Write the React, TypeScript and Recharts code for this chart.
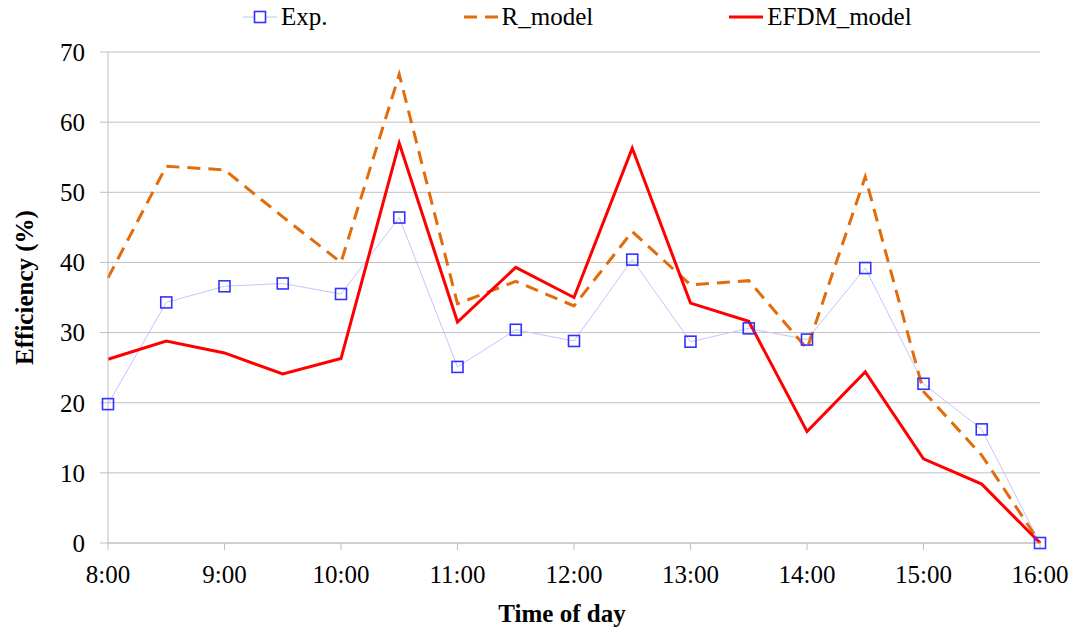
import { LineChart, Line, XAxis, YAxis, CartesianGrid, Legend, Label } from "recharts";

// Half-hour readings across the day (hours as decimals)
const hours = [8, 8.5, 9, 9.5, 10, 10.5, 11, 11.5, 12, 12.5, 13, 13.5, 14, 14.5, 15, 15.5, 16];
const expValues = [19.8, 34.3, 36.6, 37.0, 35.5, 46.4, 25.1, 30.4, 28.8, 40.4, 28.7, 30.6, 29.0, 39.2, 22.7, 16.2, 0];
const rModelValues = [37.8, 53.7, 53.2, 46.5, 40.0, 66.8, 34.1, 37.3, 33.8, 44.4, 36.8, 37.4, 27.7, 52.2, 21.6, 12.5, 0];
const efdmValues = [26.2, 28.8, 27.1, 24.1, 26.3, 57.0, 31.5, 39.3, 35.0, 56.3, 34.2, 31.6, 15.9, 24.4, 12.0, 8.4, 0];

const xTicks = [8, 9, 10, 11, 12, 13, 14, 15, 16];
const yTicks = [0, 10, 20, 30, 40, 50, 60, 70];

const rows = hours.map((t, i) => ({
  t,
  exp: expValues[i],
  rModel: rModelValues[i],
  efdm: efdmValues[i],
}));

const FONT = "'Liberation Serif', 'Times New Roman', serif";
const GRID = "#c0c0c0";
const EXP_LINE = "#c4c4ff";
const EXP_MARK = "#3333ff";
const R_COLOR = "#e36c0a";
const EFDM_COLOR = "#ff0000";

function SquareDot(props: any) {
  const { cx, cy, index } = props;
  if (cx == null || cy == null) return null;
  return (
    <rect
      key={`sq-${index}`}
      x={cx - 5.5}
      y={cy - 5.5}
      width={11}
      height={11}
      fill="none"
      stroke={EXP_MARK}
      strokeWidth={1.6}
    />
  );
}

function LegendIcon({ kind }: { kind: string }) {
  return (
    <svg width={34} height={18} style={{ display: "block" }}>
      {kind === "exp" && (
        <>
          <line x1={0} y1={9} x2={34} y2={9} stroke={EXP_LINE} strokeWidth={1} />
          <rect x={11.5} y={3.5} width={11} height={11} fill="#fff" stroke={EXP_MARK} strokeWidth={1.6} />
        </>
      )}
      {kind === "r" && (
        <line x1={0} y1={9} x2={34} y2={9} stroke={R_COLOR} strokeWidth={3} strokeDasharray="13 8" />
      )}
      {kind === "efdm" && <line x1={0} y1={9} x2={34} y2={9} stroke={EFDM_COLOR} strokeWidth={3} />}
    </svg>
  );
}

const legendItems = [
  { label: "Exp.", kind: "exp" },
  { label: "R_model", kind: "r" },
  { label: "EFDM_model", kind: "efdm" },
];

function renderLegend() {
  return (
    <div
      style={{
        display: "flex",
        alignItems: "center",
        height: 18,
        paddingLeft: 235,
        gap: 136,
        fontFamily: FONT,
        fontSize: 25,
        lineHeight: "18px",
        color: "#000",
      }}
    >
      {legendItems.map((it) => (
        <div key={it.kind} style={{ display: "flex", alignItems: "center", gap: 4 }}>
          <LegendIcon kind={it.kind} />
          <span>{it.label}</span>
        </div>
      ))}
    </div>
  );
}

export default function App() {
  const tickStyle = { fontSize: 25, fill: "#000", fontFamily: FONT };
  return (
    <div style={{ fontFamily: FONT, width: 1062, height: 620 }}>
      <LineChart
        width={1062}
        height={620}
        data={rows}
        margin={{ top: 26, right: 30, bottom: 25, left: 0 }}
      >
        <CartesianGrid vertical={false} stroke={GRID} strokeWidth={1} />
        <XAxis
          dataKey="t"
          type="number"
          domain={[8, 16]}
          ticks={xTicks}
          tickFormatter={(h: number) => `${h}:00`}
          height={60}
          stroke={GRID}
          tickSize={7}
          tickMargin={15}
          tick={tickStyle}
          tickLine={{ stroke: GRID }}
          axisLine={{ stroke: GRID }}
        >
          <Label
            content={({ viewBox }: any) => (
              <text
                x={viewBox.x + viewBox.width / 2 - 12}
                y={viewBox.y + viewBox.height + 19}
                textAnchor="middle"
                fontFamily={FONT}
                fontSize={25}
                fontWeight="bold"
                fill="#000"
              >
                Time of day
              </text>
            )}
          />
        </XAxis>
        <YAxis
          domain={[0, 70]}
          ticks={yTicks}
          width={100}
          tickSize={8}
          tickMargin={15}
          tick={tickStyle}
          tickLine={{ stroke: GRID }}
          axisLine={{ stroke: GRID }}
        >
          <Label
            content={({ viewBox }: any) => {
              const x = 16;
              const y = viewBox.y + viewBox.height / 2 - 10;
              return (
                <text
                  x={x}
                  y={y}
                  transform={`rotate(-90, ${x}, ${y})`}
                  textAnchor="middle"
                  dominantBaseline="central"
                  fontFamily={FONT}
                  fontSize={25}
                  fontWeight="bold"
                  fill="#000"
                >
                  Efficiency (%)
                </text>
              );
            }}
          />
        </YAxis>
        <Legend verticalAlign="top" align="left" content={renderLegend} wrapperStyle={{ top: 0, left: 0 }} />
        <Line
          dataKey="exp"
          name="Exp."
          type="linear"
          stroke={EXP_LINE}
          strokeWidth={1}
          dot={SquareDot}
          activeDot={false}
          isAnimationActive={false}
        />
        <Line
          dataKey="rModel"
          name="R_model"
          type="linear"
          stroke={R_COLOR}
          strokeWidth={3}
          strokeDasharray="13 8"
          dot={false}
          activeDot={false}
          isAnimationActive={false}
        />
        <Line
          dataKey="efdm"
          name="EFDM_model"
          type="linear"
          stroke={EFDM_COLOR}
          strokeWidth={3}
          dot={false}
          activeDot={false}
          isAnimationActive={false}
        />
      </LineChart>
    </div>
  );
}
